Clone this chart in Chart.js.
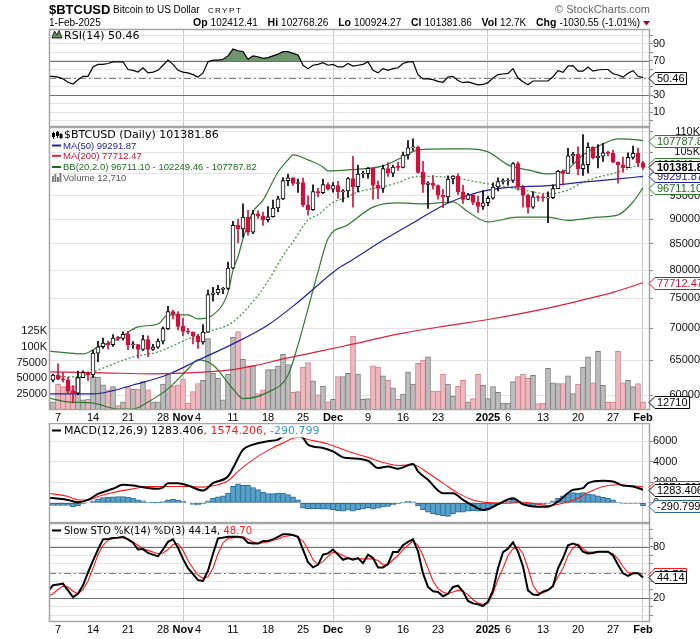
<!DOCTYPE html>
<html>
<head>
<meta charset="utf-8">
<title>$BTCUSD</title>
<script src="https://cdn.jsdelivr.net/npm/chart.js@4.4.1/dist/chart.umd.min.js"></script>
<style>
  html, body { margin: 0; padding: 0; background: #fff; }
  #page { position: relative; width: 700px; height: 639px; overflow: hidden; }
  #page canvas { position: absolute; left: 0; }
</style>
</head>
<body>
<div id="page">
  <canvas id="rsiPanel" width="700" height="128" style="top:0"></canvas>
  <canvas id="pricePanel" width="700" height="296" style="top:127px"></canvas>
  <canvas id="macdPanel" width="700" height="100" style="top:423px"></canvas>
  <canvas id="stoPanel" width="700" height="116" style="top:523px"></canvas>
</div>
<script>
// day 0 = 6-Oct-2024, one candle per calendar day up to 1-Feb-2025 (day 118)
const opens = [62080,62820,62220,62130,60580,60270,62450,63190,62850,66080,67050,67620,67370,68410,68360,69000,67370,67380,66650,68170,
  66630,67010,67930,69920,72720,72340,70280,69480,69350,68740,67800,69360,75640,75900,76540,76680,80370,88700,87950,90400,
  87300,91060,90600,89850,90480,92310,94290,98320,98960,97670,97890,93010,91960,95900,95640,97460,96410,97190,95840,96000,
  98770,96940,99830,99920,101170,97320,96590,101120,100000,101420,101370,104300,106030,106140,100200,97460,97760,97220,95100,94690,
  98690,99340,95800,94160,95160,93530,92640,93430,94420,96890,98110,98240,98350,102240,96950,95040,92480,94700,94570,94490,
  94520,96530,100500,99990,104080,104460,101090,102010,106150,103650,104000,104820,104700,102600,101950,101310,103730,104730,102412.41];
const highs = [62950,64480,63200,62520,61300,63400,63450,63300,66500,67900,68400,67950,68950,68680,69400,69500,67850,67450,68850,68750,
  67450,68300,70200,73600,72950,72700,71600,69950,69400,69000,70550,76400,76900,77250,76900,81500,89500,89950,93200,91800,
  91800,91700,91450,92600,94000,94850,99000,99800,99000,98650,98900,94950,97400,96600,98700,97800,97900,98150,96300,99000,
  104000,101900,100500,101400,101200,98300,101900,102500,101900,102600,105000,107800,108250,106500,102800,98100,99500,97400,96400,99400,
  99500,99900,97300,95500,95200,94900,96100,94900,97800,98950,98750,98800,102500,102700,97250,95350,95850,94950,95350,95800,
  97350,100700,100800,105900,104950,106300,109350,107250,106350,106850,107150,105250,105450,102700,103800,104800,106450,106000,102768.26];
const lows = [61850,62150,61850,60300,58900,60050,62450,62050,62430,64800,66800,66700,67100,68000,68100,66600,66800,65300,66500,65550,
  66500,66800,67500,69750,71500,69700,68800,69050,67500,66800,67450,69300,74500,75600,75800,76500,80250,85200,86300,86700,
  87000,90100,88700,89400,90400,91550,94100,97200,97250,95700,92600,90800,91800,94700,95400,96200,95750,94400,93600,94650,
  92500,95800,99000,98800,94200,94300,95700,99300,99200,100650,101250,103300,105400,100000,95700,92200,96400,94200,92400,93400,
  97600,95200,93300,94100,93050,91400,92000,92800,94200,96000,97500,97300,97900,96200,92500,91200,92200,93800,93700,89250,
  94300,96500,97300,99950,102300,99600,99500,100100,103350,101250,102750,104100,102500,97750,100250,101300,103300,101550,100924.27];
const closes = [62820,62220,62130,60580,60270,62450,63190,62850,66080,67050,67620,67370,68410,68360,69000,67370,67380,66650,68170,66630,
  67010,67930,69920,72720,72340,70280,69480,69350,68740,67800,69360,75640,75900,76540,76680,80370,88700,87950,90400,87300,
  91060,90600,89850,90480,92310,94290,98320,98960,97670,97890,93010,91960,95900,95640,97460,96410,97190,95840,96000,98770,
  96940,99830,99920,101170,97320,96590,101120,100000,101420,101370,104300,106030,106140,100200,97460,97760,97220,95100,94690,98690,
  99340,95800,94160,95160,93530,92640,93430,94420,96890,98110,98240,98350,102240,96950,95040,92480,94700,94570,94490,94520,
  96530,100500,99990,104080,104460,101090,102010,106150,103650,104000,104820,104700,102600,101950,101310,103730,104730,102412,101381.86];
const volumes = [13000,41000,37000,29000,38000,52000,16000,17000,53000,52000,40000,32000,37000,7000,13000,37000,33000,33000,45000,32000,
  13000,13000,41000,57000,38000,40000,49000,11000,29000,42000,47000,113000,58000,50000,16000,57000,115000,124000,80000,70000,
  70000,26000,32000,64000,64000,70000,88000,72000,28000,29000,68000,75000,46000,24000,38000,13000,17000,53000,53000,58000,
  117000,57000,17000,18000,70000,68000,54000,47000,35000,17000,25000,60000,41000,74000,79000,84000,30000,30000,57000,41000,
  22000,38000,47000,13000,18000,57000,39000,18000,37000,28000,11000,11000,45000,53000,57000,50000,55000,10000,11000,66000,
  43000,42000,42000,54000,26000,41000,68000,84000,43000,93000,39000,12000,13000,93000,43000,47000,37000,42000,12710];

// overlays, read at sample days
const ma50Days = [-1,8,12,16,23,29,36,43,49,57,60,66,73,79,85,91,99,106,113,118];
const ma50Vals = [60150,60150,60600,61400,62900,65000,67500,70500,74300,80300,82000,85700,89800,93400,95700,96800,97200,98000,98700,99291.87];
const ma200Days = [-1,10,20,30,36,41,46,53,59,70,79,87,99,106,112,118];
const ma200Vals = [63300,63150,63000,63250,63600,64300,65200,66300,67300,69200,70400,71400,73300,74700,76000,77712.47];
const bbUpDays = [-1,6,9,13,17,21,23,27,29,32,35,36,37,38,40,42,45,47,48,51,54,55,59,66,70,73,79,83,87,91,95,99,103,106,110,113,117,118];
const bbUpVals = [66400,65950,67000,68270,70190,70670,72150,72150,71490,72150,76000,80000,82500,86000,91500,94000,100300,103130,104320,103130,101480,100550,100780,101710,103840,105530,105780,105780,105050,101950,100780,99850,101010,104320,107000,108250,108000,107787.82];
const bbMidDays = [-1,5,8,16,21,27,31,36,41,43,46,48,51,53,56,59,61,66,69,73,80,85,87,93,99,103,106,113,118];
const bbMidVals = [62550,62550,63280,65500,66260,68270,69380,71000,75500,78000,82700,85400,89800,90900,93500,94700,95800,96900,97900,99300,99000,98000,97600,96450,95400,96200,98000,100300,102249.46];
const bbLoDays = [-1,3,8,13,16,19,23,27,29,32,36,38,43,47,49,53,55,59,64,69,74,80,83,87,93,99,103,109,113,116,118];
const bbLoVals = [59600,59050,58900,58100,58100,59050,60850,63700,65050,64300,60850,59500,60400,62800,67340,79670,86000,88800,92500,93400,93200,93600,91500,89400,90400,90400,89700,90400,90850,93600,96711.10];

// indicators, one value per day starting at day -1
const rsi = [52, 52,51,49,45,43,48,52,52,63,66, 66,67,69,69,69,60,59,57,62,56, 57,59,65,71,66,59,57,56,54,51,
  56,69,71,71,72,76,84,82,81,72, 76,75,73,74,76,78,81,81,79,77, 65,61,65,66,68,65,66,63,63,67,
  64,65,66,69,59,56,61,59,61,62, 67,69,69,54,49,49,48,46,45,51, 52,47,44.5,45.5,43.7,42,42.4,44.5,50,54,
  54.7,55.5,61,50,45.6,42,46.5,46.5,46.5,46.5, 51.5,58.6,56.6,64,64.5,58,58,63,58,59.4, 60,60,55,53.5,51,55.5,58.6,52,50.46];
const hist = [-250, -250,-250,-250,-250,-380,-300,-100,0,200,400, 520,560,600,620,620,560,460,300,200,60,
  30,10,120,300,350,250,150,0,-150,-200, -100,200,450,580,700,950,1600,1850,1700,1700,
  1500,1300,1050,900,900,950,950,800,600,300, -500,-550,-550,-550,-600,-600,-650,-750,-800,-700,
  -800,-650,-600,-450,-600,-500,-400,-350,-200,-80, 50,150,100,-300,-650,-900,-1050,-1150,-1250,-1300,
  -1050,-900,-900,-800,-750,-800,-750,-600,-350,-150, -50,150,350,150,-50,-200,-250,-200,-150,-50,
  200,450,700,900,1000,950,1000,850,800,700, 550,450,300,80,-50,-50,-50,-50,-290.799];
const stoK = [28, 35,36,37,29,21,25,35,50,64,77, 89,89.5,90.5,91,92,89,85,77,77.5,73, 71,69,77,86,89,79,66,55,48,41,
  40,52,72,90,91,92,92,92,91,85, 84,84,87,87,89,92,95,95,94,92, 77,62,56,59,71,72.5,77,71,65,67,
  65,67,61,71,67,56,56,60,74,74, 82,86,89,75,49,33,28,27,22,25, 33,34.5,27.5,16.5,13.7,12.5,10.6,15.7,29,55,
  74,78,85.5,74.5,57,29,24,23.5,27.5,29.4, 34,55,67,82,84,82,74.5,72.5,73,74.5, 74.5,74.5,70,59,49,46,49,49,44.14];
const stoD = [22, 25,30,34,33,28,25,30,40,55,71, 82,88,90,91,91,89,86,82,78,76, 74,72,73,77,83,84,76,64,55,47,
  43,45,55,72,85,90,91,92,92,89, 86,84,85,86,88,89,92,93,94,91, 87,77,65,59,63,69,74,73,70,67,
  66,66,66,66,66,64,59,59,65,70, 77,82,87,82,70,55,40,31,27,25, 27,29,28,24,18,14,12.5,14,25,42,
  55,70,78,80,72,55,35,26,26,29, 34,45,55,70,79,83.5,78,74,74,74.5, 74.5,74,72,66,57,50,49,49,48.7];
const macdDays = [-1,3,5,7,9,12,14,16,18,21,22,23,25,27,30,32,35,36,38,40,43,45,46,48,50,51,54,56,58,59,63,65,67,69,72,73,75,78,80,82,84,86,87,89,92,94,97,99,101,104,106,107,110,112,114,116,118];
const macdVals = [520,290,70,290,880,1370,1760,1690,1530,1370,1500,1920,1920,1690,1200,1920,2570,3380,5170,5660,5980,6150,6470,6700,6315,5660,5340,5010,4420,4360,4100,3380,3540,3320,3780,3060,2250,950,950,290,-260,-680,-620,-130,460,-130,-360,-360,130,1270,1430,1920,2150,2080,1690,1590,1283.406];
const signalDays = [-1,3,5,7,9,12,16,19,27,30,33,35,37,40,43,46,49,51,55,59,63,66,69,72,75,78,81,84,87,91,94,97,99,102,105,107,110,113,115,118];
const signalVals = [950,620,290,290,620,1010,1370,1590,1590,1530,1760,2150,3060,4200,5100,5830,6380,6150,5730,5010,4420,3930,3640,3700,2900,1920,950,290,30,-30,70,-130,-260,-30,460,1000,1590,1760,1690,1574.206];

// axes
const tickDays = [1,8,15,22,26,29,36,43,50,56,63,70,77,87,91,98,105,112,118];
const tickLabels = ['7','14','21','28','Nov','4','11','18','25','Dec','9','16','23','2025','6','13','20','27','Feb'];
const monthDays = [26,56,87,118];
const priceTicks = [60000,65000,70000,75000,80000,85000,90000,95000,100000,105000,110000];
const volTicks = [25000,50000,75000,100000,125000];
const tenGrid = [0,10,20,30,40,50,60,70,80,90,100];
const rsiLabels = [10,30,50,70,90];
const stoLabels = [20,50,80];
const macdTicks = [0,2000,4000,6000];

const FA = '"Liberation Sans", Arial, sans-serif';
const FL = '"DejaVu Sans", Verdana, sans-serif';
const RED = '#d0103a';
const GRID = '#e3e3e3';

Chart.defaults.font.family = FA;
Chart.defaults.font.size = 11;
Chart.defaults.color = '#111';
Chart.defaults.animation = false;
Chart.defaults.events = [];
Chart.defaults.plugins.legend.display = false;
Chart.defaults.plugins.tooltip.enabled = false;
Chart.defaults.elements.point.radius = 0;

const up = i => closes[i] >= opens[i];
const series = (vals, first) => vals.map((v, i) => ({ x: i + first, y: v }));
const pairs = (ds, vs) => ds.map((d, i) => ({ x: d, y: vs[i] }));
const last = arr => arr[arr.length - 1];

function xAxis(showLabels, h) {
  return {
    type: 'linear', min: -0.8, max: 119.4, offset: false,
    afterBuildTicks: s => { s.ticks = tickDays.map(v => ({ value: v })); },
    afterFit: s => { s.height = h; s.paddingLeft = 0; s.paddingRight = 0; },
    border: { display: false },
    grid: { offset: false, drawTicks: false, lineWidth: 1,
      color: c => (c.tick && monthDays.includes(c.tick.value)) ? '#c8c8c8' : 'rgba(0,0,0,0)' },
    ticks: { display: showLabels, autoSkip: false, maxRotation: 0, padding: 1, color: '#000',
      font: c => ({ family: FA, size: 11, weight: (c.tick && monthDays.includes(c.tick.value)) ? 'bold' : 'normal' }),
      callback: v => tickLabels[tickDays.indexOf(v)] }
  };
}

function yRight(min, max, ticks, label, far) {
  return {
    position: 'right', min: min, max: max,
    afterBuildTicks: s => { s.ticks = ticks.map(v => ({ value: v })); },
    afterFit: s => { s.width = 50; s.paddingTop = 0; s.paddingBottom = 0; },
    border: { display: false },
    grid: { color: GRID, tickColor: '#8a8a8a', tickLength: 3 },
    ticks: { autoSkip: false, padding: 0, color: '#111', crossAlign: far ? 'far' : 'near', callback: label }
  };
}

function refLines(list) {
  return { id: 'refLines', beforeDatasetsDraw(chart) {
    const ctx = chart.ctx, a = chart.chartArea, s = chart.scales.y;
    ctx.save();
    list.forEach(r => {
      const y = Math.round(s.getPixelForValue(r.v)) + 0.5;
      ctx.strokeStyle = r.color; ctx.lineWidth = 1; ctx.setLineDash(r.dash || []);
      ctx.beginPath(); ctx.moveTo(a.left, y); ctx.lineTo(a.right, y); ctx.stroke();
    });
    ctx.restore();
  }};
}

function frame(ctx, a) {
  ctx.save();
  ctx.strokeStyle = '#a4a4a4'; ctx.lineWidth = 1.5;
  ctx.strokeRect(a.left + 0.5, a.top + 0.5, a.right - a.left - 1, a.bottom - a.top - 1);
  ctx.restore();
}

function tag(ctx, y, text, stroke, color, bold) {
  ctx.save();
  ctx.font = (bold ? 'bold ' : '') + '11px ' + FA;
  const w = ctx.measureText(text).width;
  const x0 = 649, x1 = 655, x2 = Math.min(x1 + w + 4, 702), h = 6;
  y = Math.round(y) + 0.5;
  ctx.beginPath();
  ctx.moveTo(x0, y); ctx.lineTo(x1, y - h); ctx.lineTo(x2, y - h); ctx.lineTo(x2, y + h); ctx.lineTo(x1, y + h); ctx.closePath();
  ctx.fillStyle = '#fff'; ctx.fill();
  ctx.lineWidth = 1; ctx.strokeStyle = stroke; ctx.stroke();
  ctx.fillStyle = color; ctx.textBaseline = 'middle'; ctx.fillText(text, x1 + 2, y + 0.5);
  ctx.restore();
}

function segs(ctx, x, y, font, parts) {
  ctx.font = font; ctx.textBaseline = 'alphabetic'; ctx.textAlign = 'left';
  parts.forEach(p => { ctx.fillStyle = p[1]; ctx.fillText(p[0], x, y); x += ctx.measureText(p[0]).width; });
}

function dash(ctx, y, color) {
  ctx.save(); ctx.strokeStyle = color; ctx.lineWidth = 2;
  ctx.beginPath(); ctx.moveTo(52, y); ctx.lineTo(61, y); ctx.stroke(); ctx.restore();
}

const quote = [['Op', '102412.41'], ['Hi', '102768.26'], ['Lo', '100924.27'], ['Cl', '101381.86'], ['Vol', '12.7K'], ['Chg', '-1030.55 (-1.01%)']];

function drawHeader(ctx) {
  ctx.save();
  ctx.textBaseline = 'alphabetic'; ctx.fillStyle = '#000';
  ctx.font = 'bold 13px ' + FA; ctx.fillText('$BTCUSD', 49, 13.5);
  ctx.font = '10px ' + FA; ctx.fillText('Bitcoin to US Dollar', 113, 13);
  ctx.font = '8px ' + FA;
  'CRYPT'.split('').forEach((ch, i) => ctx.fillText(ch, 208 + i * 7, 12.5));
  ctx.font = '10px ' + FA; ctx.fillText('1-Feb-2025', 49, 26);
  // quote line laid out from x=193 to x=640
  const LB = 'bold 10.5px ' + FA, VF = '10px ' + FA;
  let total = 0;
  quote.forEach(q => { ctx.font = LB; total += ctx.measureText(q[0]).width + 3; ctx.font = VF; total += ctx.measureText(q[1]).width; });
  const gap = (640 - 193 - total) / (quote.length - 1);
  let x = 193;
  quote.forEach(q => {
    ctx.font = LB; ctx.fillText(q[0], x, 26); x += ctx.measureText(q[0]).width + 3;
    ctx.font = VF; ctx.fillText(q[1], x, 26); x += ctx.measureText(q[1]).width + gap;
  });
  ctx.fillStyle = '#990033';
  ctx.beginPath(); ctx.moveTo(643, 21); ctx.lineTo(650, 21); ctx.lineTo(646.5, 25.5); ctx.closePath(); ctx.fill();
  ctx.fillStyle = '#666'; ctx.font = '11px ' + FA; ctx.textAlign = 'right';
  ctx.fillText('\u00A9 StockCharts.com', 650, 12.5);
  ctx.restore();
}

// ---------- RSI ----------
new Chart(document.getElementById('rsiPanel'), {
  type: 'line',
  data: { datasets: [{
    data: series(rsi, -1), borderColor: '#000', borderWidth: 1.2,
    fill: { target: { value: 70 }, above: 'rgb(110,149,110)', below: 'rgba(0,0,0,0)' }
  }]},
  options: {
    responsive: false, maintainAspectRatio: false,
    layout: { padding: { top: 29, bottom: 1, left: 49 } },
    scales: { x: xAxis(false, 0), y: yRight(-7.6, 107.6, tenGrid, v => rsiLabels.includes(v) ? String(v) : '') }
  },
  plugins: [refLines([{ v: 70, color: '#707070' }, { v: 30, color: '#707070' }, { v: 50, color: '#808080', dash: [7, 3, 2, 3] }]),
    { id: 'rsiDecor', afterDraw(chart) {
      const ctx = chart.ctx, a = chart.chartArea;
      frame(ctx, a);
      drawHeader(ctx);
      ctx.save();
      ctx.fillStyle = '#5e8f5e'; ctx.strokeStyle = '#000'; ctx.lineWidth = 0.8;
      ctx.beginPath(); ctx.moveTo(52, 38); ctx.lineTo(54.5, 31); ctx.lineTo(57, 35); ctx.lineTo(59, 30.5); ctx.lineTo(62, 38); ctx.closePath();
      ctx.fill(); ctx.stroke(); ctx.restore();
      segs(ctx, 64, 39, '11px ' + FL, [['RSI(14) 50.46', '#000']]);
      tag(ctx, chart.scales.y.getPixelForValue(last(rsi)), '50.46', '#000', '#000');
    }}]
});

// ---------- Price + volume ----------
new Chart(document.getElementById('pricePanel'), {
  type: 'bar',
  data: { datasets: [
    { type: 'bar', yAxisID: 'yv', grouped: false, order: 10, barThickness: 5, borderWidth: 1, borderSkipped: false,
      data: volumes.map((v, i) => ({ x: i, y: v })),
      backgroundColor: c => up(c.dataIndex) ? '#bdbdbd' : '#ebbac0',
      borderColor: c => up(c.dataIndex) ? '#7c7c7c' : '#d27c86' },
    { type: 'line', yAxisID: 'y', order: 5, data: pairs(ma200Days, ma200Vals), borderColor: '#dc1f3c', borderWidth: 1.2, cubicInterpolationMode: 'monotone' },
    { type: 'line', yAxisID: 'y', order: 5, data: pairs(ma50Days, ma50Vals), borderColor: '#22229c', borderWidth: 1.2, cubicInterpolationMode: 'monotone' },
    { type: 'line', yAxisID: 'y', order: 5, data: pairs(bbUpDays, bbUpVals), borderColor: '#2f7a2f', borderWidth: 1.2, cubicInterpolationMode: 'monotone' },
    { type: 'line', yAxisID: 'y', order: 5, data: pairs(bbLoDays, bbLoVals), borderColor: '#2f7a2f', borderWidth: 1.2, cubicInterpolationMode: 'monotone' },
    { type: 'line', yAxisID: 'y', order: 5, data: pairs(bbMidDays, bbMidVals), borderColor: '#4c9a4c', borderWidth: 1.3, borderDash: [2, 2], cubicInterpolationMode: 'monotone' },
    { type: 'bar', yAxisID: 'y', grouped: false, order: 2, barThickness: 1, borderWidth: 0,
      data: highs.map((h, i) => ({ x: i, y: [lows[i], h] })),
      backgroundColor: c => up(c.dataIndex) ? '#000' : RED },
    { type: 'bar', yAxisID: 'y', grouped: false, order: 1, barThickness: 4, borderWidth: 1, borderSkipped: false, minBarLength: 1,
      data: closes.map((cl, i) => ({ x: i, y: [opens[i], cl] })),
      backgroundColor: c => up(c.dataIndex) ? '#fff' : RED,
      borderColor: c => up(c.dataIndex) ? '#000' : RED }
  ]},
  options: {
    responsive: false, maintainAspectRatio: false,
    scales: {
      x: xAxis(true, 13),
      y: Object.assign(yRight(57963, 111255, priceTicks, v => v >= 100000 ? (v / 1000) + 'K' : String(v), true), { type: 'logarithmic' }),
      yv: { position: 'left', min: 0, max: 447800,
        afterBuildTicks: s => { s.ticks = volTicks.map(v => ({ value: v })); },
        afterFit: s => { s.width = 49; s.paddingTop = 0; s.paddingBottom = 0; },
        border: { display: false }, grid: { display: false, drawTicks: false },
        ticks: { autoSkip: false, padding: 2, color: '#111', callback: v => v >= 100000 ? (v / 1000) + 'K' : String(v) } }
    }
  },
  plugins: [{ id: 'priceDecor', afterDraw(chart) {
    const ctx = chart.ctx, a = chart.chartArea, y = chart.scales.y, yv = chart.scales.yv;
    frame(ctx, a);
    // candle icon
    ctx.save(); ctx.strokeStyle = '#000'; ctx.fillStyle = '#000'; ctx.lineWidth = 1;
    [[53.5, 5, 12, 6, 10], [57.5, 4, 11, 5, 9], [61, 6, 12, 7, 11]].forEach(c => {
      ctx.beginPath(); ctx.moveTo(c[0], c[1]); ctx.lineTo(c[0], c[2]); ctx.stroke();
      ctx.fillRect(c[0] - 1.5, c[3], 3, c[4] - c[3]);
    });
    ctx.restore();
    segs(ctx, 64, 11, '11px ' + FL, [['$BTCUSD (Daily) 101381.86', '#000']]);
    dash(ctx, 18.5, '#22229c'); segs(ctx, 63, 21.7, '9.5px ' + FA, [['MA(50) 99291.87', '#1a1a99']]);
    dash(ctx, 28.8, '#dc1f3c'); segs(ctx, 63, 32, '9.5px ' + FA, [['MA(200) 77712.47', '#cc1133']]);
    dash(ctx, 40, '#1e6b1e'); segs(ctx, 63, 43.3, '9.5px ' + FA, [['BB(20,2.0) 96711.10 - 102249.46 - 107787.82', '#1e6b1e']]);
    ctx.save(); ctx.fillStyle = '#777';
    [[52, 49, 6], [54.5, 47, 8], [57, 50, 5], [59.5, 46, 9]].forEach(b => ctx.fillRect(b[0], b[1], 1.8, b[2]));
    ctx.restore();
    segs(ctx, 63, 54, '9.5px ' + FA, [['Volume 12,710', '#555']]);
    tag(ctx, y.getPixelForValue(last(bbMidVals)), last(bbMidVals).toFixed(2), '#2f7a2f', '#1e6b1e');
    tag(ctx, y.getPixelForValue(last(bbUpVals)), last(bbUpVals).toFixed(2), '#2f7a2f', '#1e6b1e');
    tag(ctx, y.getPixelForValue(last(bbLoVals)), last(bbLoVals).toFixed(2), '#2f7a2f', '#1e6b1e');
    tag(ctx, y.getPixelForValue(last(ma50Vals)), last(ma50Vals).toFixed(2), '#22229c', '#1a1a99');
    tag(ctx, y.getPixelForValue(last(closes)), last(closes).toFixed(2), '#000', '#000', true);
    tag(ctx, y.getPixelForValue(last(ma200Vals)), last(ma200Vals).toFixed(2), '#cc1133', '#cc1133');
    tag(ctx, yv.getPixelForValue(last(volumes)), String(last(volumes)), '#000', '#000');
  }}]
});

// ---------- MACD ----------
new Chart(document.getElementById('macdPanel'), {
  type: 'bar',
  data: { datasets: [
    { type: 'bar', grouped: false, order: 3, barThickness: 5, borderWidth: 1, borderSkipped: false,
      data: series(hist, -1), backgroundColor: '#55a3cd', borderColor: '#2a6a92' },
    { type: 'line', order: 2, data: pairs(signalDays, signalVals), borderColor: '#ff1a1a', borderWidth: 1.1, cubicInterpolationMode: 'monotone' },
    { type: 'line', order: 1, data: pairs(macdDays, macdVals), borderColor: '#000', borderWidth: 2, cubicInterpolationMode: 'monotone' }
  ]},
  options: {
    responsive: false, maintainAspectRatio: false,
    layout: { padding: { left: 49 } },
    scales: { x: xAxis(false, 0), y: yRight(-1950, 7760, macdTicks, v => String(v)) }
  },
  plugins: [{ id: 'macdDecor', afterDraw(chart) {
    const ctx = chart.ctx, a = chart.chartArea, y = chart.scales.y;
    ctx.save(); ctx.fillStyle = '#fff'; ctx.fillRect(51, 1.5, 278, 13); ctx.restore();
    frame(ctx, a);
    dash(ctx, 7.5, '#000');
    segs(ctx, 64, 11.3, '11px ' + FL, [['MACD(12,26,9) 1283.406', '#000'], [', 1574.206, ', '#ff1a1a'], ['-290.799', '#3399cc']]);
    tag(ctx, y.getPixelForValue(last(signalVals)), '1574.206', '#ff1a1a', '#000');
    tag(ctx, y.getPixelForValue(last(macdVals)), '1283.406', '#000', '#000');
    tag(ctx, y.getPixelForValue(last(hist)), '-290.799', '#2a6a92', '#000');
  }}]
});

// ---------- Slow Stochastic ----------
new Chart(document.getElementById('stoPanel'), {
  type: 'line',
  data: { datasets: [
    { order: 2, data: series(stoD, -1), borderColor: '#ff1a1a', borderWidth: 1.1 },
    { order: 1, data: series(stoK, -1), borderColor: '#000', borderWidth: 2 }
  ]},
  options: {
    responsive: false, maintainAspectRatio: false,
    layout: { padding: { left: 49 } },
    scales: { x: xAxis(true, 17), y: yRight(-8.2, 108.2, tenGrid, v => stoLabels.includes(v) ? String(v) : '') }
  },
  plugins: [refLines([{ v: 80, color: '#707070' }, { v: 20, color: '#707070' }, { v: 50, color: '#808080', dash: [7, 3, 2, 3] }]),
    { id: 'stoDecor', afterDraw(chart) {
      const ctx = chart.ctx, a = chart.chartArea, y = chart.scales.y;
      frame(ctx, a);
      dash(ctx, 7.5, '#000');
      segs(ctx, 64, 11.3, '10px ' + FL, [['Slow STO %K(14) %D(3) 44.14, ', '#000'], ['48.70', '#ff1a1a']]);
      tag(ctx, y.getPixelForValue(last(stoD)), '48.70', '#ff1a1a', '#000');
      tag(ctx, y.getPixelForValue(last(stoK)), '44.14', '#000', '#000');
    }}]
});
</script>
</body>
</html>
